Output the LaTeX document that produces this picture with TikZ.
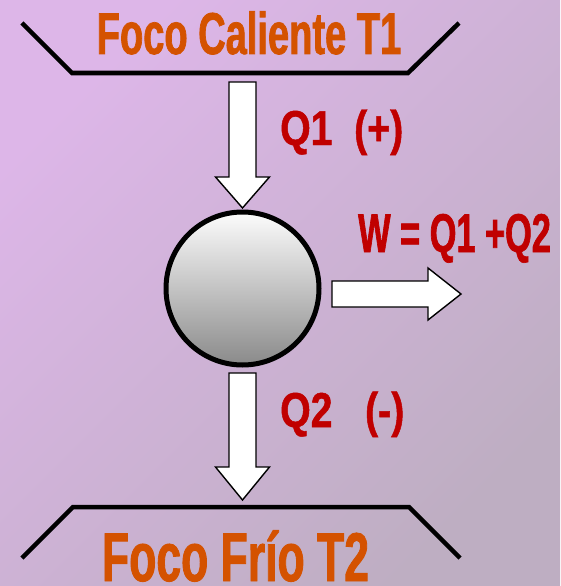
\documentclass[tikz,border=0pt]{standalone}
\usepackage{fontspec}
\setmainfont{Liberation Sans}
\newfontfamily\bankfont[FakeStretch=0.645,FakeBold=1.2]{Liberation Sans}
\newfontfamily\heatfont[FakeStretch=0.8,FakeBold=1]{Liberation Sans}
\newfontfamily\workfont[FakeStretch=0.63,FakeBold=1.2]{Liberation Sans}
\usetikzlibrary{positioning,calc}

\definecolor{bgtl}{HTML}{DDB6E8}
\definecolor{bgbr}{HTML}{BEAEC2}
\definecolor{flame}{HTML}{D45200}
\definecolor{heatred}{HTML}{C00000}
\definecolor{enginetop}{HTML}{FCFCFC}
\definecolor{enginebot}{HTML}{8A8A8A}

\begin{document}
\begin{tikzpicture}[
  x=1pt, y=-1pt,
  bank/.style={line width=4.5pt, line join=miter},
  fatarrow/.style={draw=black, fill=white, line width=1.4pt, line join=miter},
  banklabel/.style={inner sep=0pt, anchor=base, text=flame},
  heat/.style={inner sep=0pt, anchor=base west, text=heatred, font=\heatfont\bfseries\fontsize{49}{49}\selectfont},
  work/.style={inner sep=0pt, anchor=base west, text=heatred, font=\workfont\bfseries\fontsize{54.5}{54.5}\selectfont}
]
  \useasboundingbox (0,0) rectangle (560,586);
  \shade[top color=bgtl, bottom color=bgbr, shading angle=45] (0,0) rectangle (560,586);

  % reservoirs
  \draw[bank] (22,23) -- (72,73) -- (408,73) -- (459,23);
  \draw[bank] (22,558) -- (73,507) -- (409,507) -- (460,558);
  \node[banklabel, font=\bankfont\bfseries\fontsize{59}{59}\selectfont] (hot) at (249,54) {Foco Caliente T1};
  \node[banklabel, font=\bankfont\bfseries\fontsize{69}{69}\selectfont] (cold) at (235.5,581) {Foco Frío T2};

  % engine
  \node[circle, draw, line width=5pt, minimum size=153pt, inner sep=0pt,
        top color=enginetop, bottom color=enginebot] (engine) at (242.5,288.5) {};

  % heat and work flows
  \draw[fatarrow] ($(engine.north)+(0,-1.5)$) -- ++(-27,-31) -- ++(13.5,0) -- ++(0,-95)
    -- ++(27,0) -- ++(0,95) -- ++(13.5,0) -- cycle;
  \draw[fatarrow] ($(engine.south)+(-13.5,5.5)$) -- ++(27,0) -- ++(0,94) -- ++(13.5,0)
    -- ++(-27,33) -- ++(-27,-33) -- ++(13.5,0) -- cycle;
  \draw[fatarrow] ($(engine.east)+(10.5,-7.5)$) -- ++(96,0) -- ++(0,-13) -- ++(33,26)
    -- ++(-33,26) -- ++(0,-13) -- ++(-96,0) -- cycle;

  \node[heat] (q1) at (280,145) {Q1~~(+)};
  \node[heat] (q2) at (280,427) {Q2~~~(-)};
  \node[work] (w) at (358,252) {W = Q1 +Q2};
\end{tikzpicture}
\end{document}
